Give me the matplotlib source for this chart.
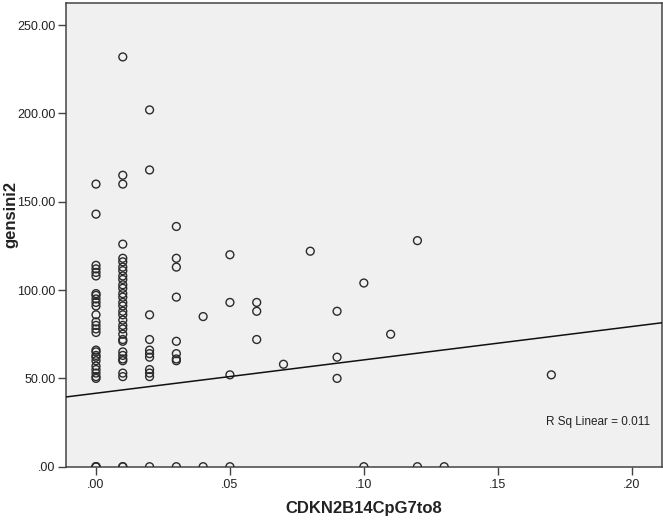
import matplotlib
matplotlib.use("Agg")
import matplotlib.pyplot as plt
import numpy as np

plt.rcParams['font.family'] = ['Liberation Sans', 'DejaVu Sans']

# Data: (x value, list of y values)
x_00 = [160, 143, 114, 112, 110, 108, 98, 97, 95, 93, 91, 86, 82, 80, 78, 76,
        66, 65, 63, 62, 60, 57, 55, 53, 51, 50, 0, 0, 0]
x_01 = [232, 165, 160, 126, 118, 116, 113, 111, 108, 106, 103, 101, 98, 96, 93,
        91, 88, 86, 83, 80, 78, 75, 72, 71, 65, 63, 61, 60, 53, 51, 0, 0]
x_02 = [202, 168, 86, 72, 66, 64, 62, 55, 53, 51, 0]
x_03 = [136, 118, 113, 96, 71, 64, 61, 60, 0]
x_04 = [85, 0]
x_05 = [120, 93, 52, 0]
x_06 = [93, 88, 72]
x_07 = [58]
x_08 = [122]
x_09 = [88, 62, 50]
x_10 = [104, 0]
x_11 = [75]
x_12 = [128, 0]
x_13 = [0]
x_17 = [52]

groups = [(0.00, x_00), (0.01, x_01), (0.02, x_02), (0.03, x_03), (0.04, x_04),
          (0.05, x_05), (0.06, x_06), (0.07, x_07), (0.08, x_08), (0.09, x_09),
          (0.10, x_10), (0.11, x_11), (0.12, x_12), (0.13, x_13), (0.17, x_17)]

# Fit line
fit_intercept = 41.6
fit_slope = 188.8
r_sq_text = "R Sq Linear = 0.011"

x_ticks = [0.00, 0.05, 0.10, 0.15, 0.20]
x_tick_labels = [".00", ".05", ".10", ".15", ".20"]
y_ticks = [0, 50, 100, 150, 200, 250]
y_tick_labels = [".00", "50.00", "100.00", "150.00", "200.00", "250.00"]

xs, ys = [], []
for xv, vals in groups:
    for v in vals:
        xs.append(xv)
        ys.append(v)

fig = plt.figure(figsize=(6.63, 5.20), dpi=100)
ax = fig.add_axes([66/663, 1 - 466.7/520, (661.7-66)/663, (466.7-2.7)/520])
ax.set_facecolor('#F0F0F0')

xmin, xmax = -0.0112, 0.2112
ax.set_xlim(xmin, xmax)
ax.set_ylim(0, 262.7)

ax.scatter(xs, ys, s=32, facecolors='none', edgecolors='#2b2b2b', linewidths=1.0, zorder=3)

lx = np.array([xmin, xmax])
ax.plot(lx, fit_intercept + fit_slope * lx, color='#111111', lw=1.1, zorder=4)

ax.text(0.2067, 25.5, r_sq_text, ha='right', va='center', fontsize=8.5, color='#222222')

ax.set_xticks(x_ticks)
ax.set_xticklabels(x_tick_labels)
ax.set_yticks(y_ticks)
ax.set_yticklabels(y_tick_labels)
ax.tick_params(axis='both', direction='out', length=5.5, width=1.0, color='#444444',
               labelsize=9, labelcolor='#222222', pad=2)
ax.tick_params(axis='x', pad=3)

for sp in ax.spines.values():
    sp.set_color('#444444')
    sp.set_linewidth(1.1)

ax.set_xlabel("CDKN2B14CpG7to8", fontsize=12, fontweight='bold', color='#222222')
ax.set_ylabel("gensini2", fontsize=12, fontweight='bold', color='#222222')
ax.xaxis.set_label_coords(0.5, (466.7 - 508) / 464.0)
ax.yaxis.set_label_coords((11 - 66) / 595.7, (466.7 - 215) / 464.0)
ax.xaxis.label.set_va('center')
ax.yaxis.label.set_va('center')

fig.savefig("out.png", dpi=100, facecolor='white')
